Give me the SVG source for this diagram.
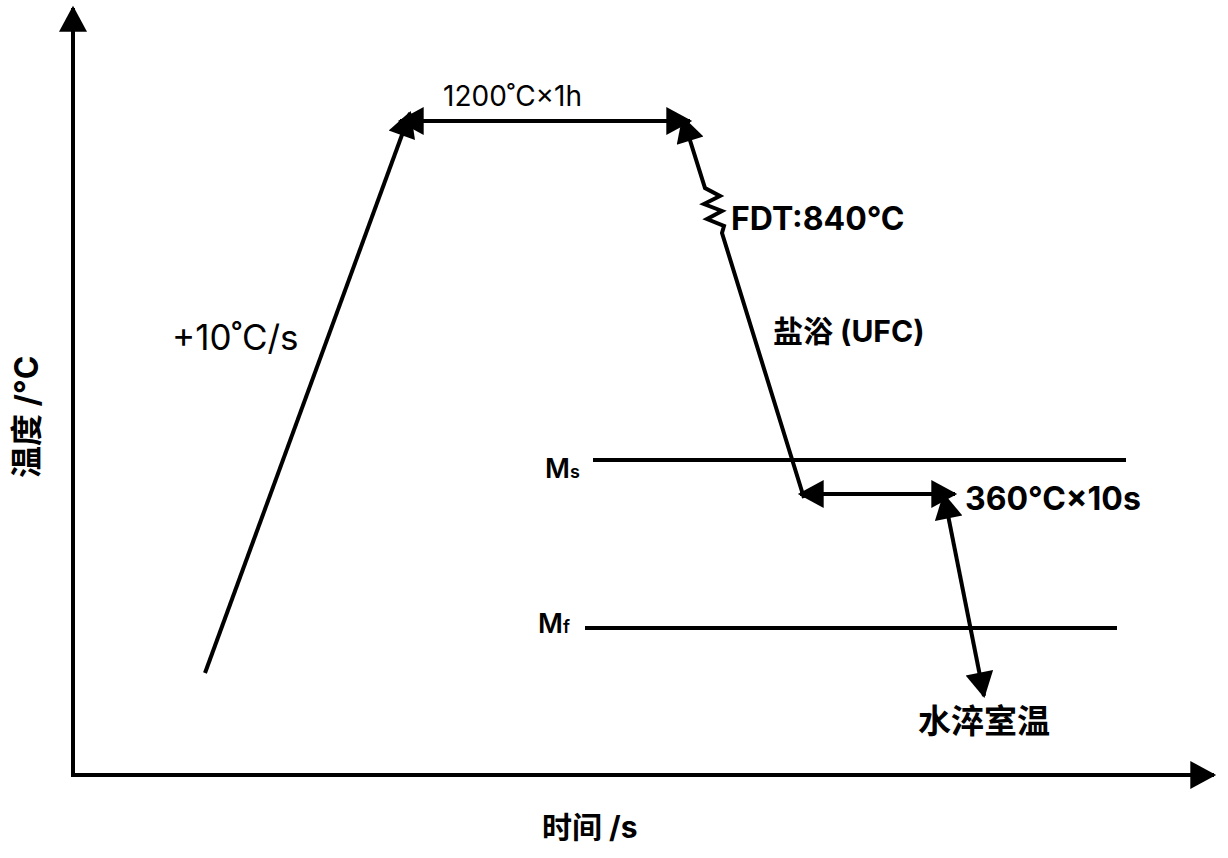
<svg xmlns="http://www.w3.org/2000/svg" width="1228" height="858" viewBox="0 0 1228 858">
<style>
.ln{stroke:#000;stroke-width:4;fill:none}
.t{font-family:Inter,"Noto Sans","Noto Sans CJK SC",sans-serif;fill:#000}
.b{font-weight:bold}
</style>
<defs>
<marker id="ah" markerUnits="userSpaceOnUse" markerWidth="28" markerHeight="28" viewBox="0 0 24 26" refX="22" refY="13" orient="auto-start-reverse">
<path d="M0,0 L24,13 L0,26 Z" fill="#000"/>
</marker>
</defs>
<rect width="1228" height="858" fill="#fff"/>
<g id="axes">
<line class="ln" x1="73" y1="777" x2="73" y2="8" marker-end="url(#ah)"/>
<line class="ln" x1="71" y1="775" x2="1214" y2="775" marker-end="url(#ah)"/>
</g>
<g id="connectors">
<line class="ln" x1="205" y1="673" x2="410" y2="113" marker-end="url(#ah)"/>
<line class="ln" x1="400" y1="121" x2="690" y2="121" marker-start="url(#ah)" marker-end="url(#ah)"/>
<polyline class="ln" points="683,118 705,188 720,196 704,204 722,211 707,219 724,226 722,233 804,498" marker-start="url(#ah)"/>
<line class="ln" x1="800" y1="494" x2="955" y2="494" marker-start="url(#ah)" marker-end="url(#ah)"/>
<line class="ln" x1="944" y1="495" x2="984" y2="696" marker-start="url(#ah)" marker-end="url(#ah)"/>
<line class="ln" x1="593" y1="460" x2="1126" y2="460"/>
<line class="ln" x1="585" y1="628" x2="1117" y2="628"/>
</g>
<g id="labels">
<text class="t" x="443" y="106" font-size="28">1200˚C×1h</text>
<text class="t" x="172" y="350" font-size="35">+10˚C/s</text>
<text class="t b" x="731" y="230" font-size="32">FDT:840°C</text>
<text class="t b" x="773" y="342" font-size="30">盐浴 (UFC)</text>
<text class="t" x="545" y="478" font-size="27" font-weight="600">M<tspan font-size="18">s</tspan></text>
<text class="t b" x="965" y="510" font-size="32">360°C×10s</text>
<text class="t" x="538" y="633" font-size="27" font-weight="600">M<tspan font-size="18">f</tspan></text>
<text class="t" x="918" y="733" font-size="33" font-weight="600">水淬室温</text>
<text class="t b" x="542" y="838" font-size="30">时间 /s</text>
<text class="t b" transform="translate(38,478) rotate(-90)" x="0" y="0" font-size="32">温度 /°C</text>
</g>
</svg>
